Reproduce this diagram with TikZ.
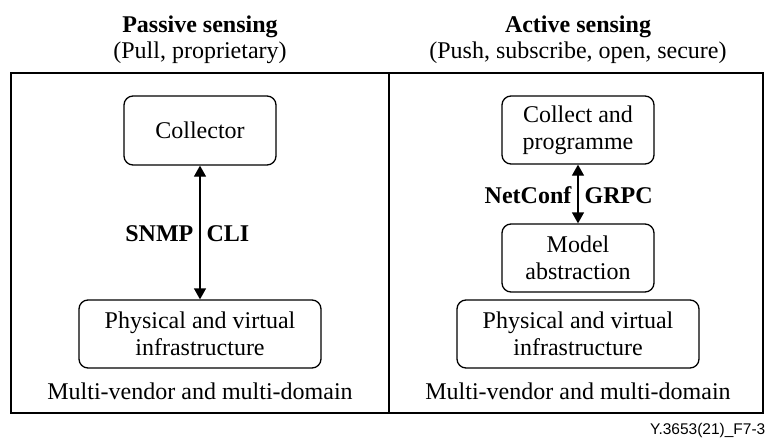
\documentclass[tikz,border=0pt]{standalone}
\usepackage{fontspec}
\setmainfont{Liberation Serif}
\newfontfamily\footfont{Liberation Sans}
\usetikzlibrary{arrows.meta}
\begin{document}
\begin{tikzpicture}[x=1pt,y=-1pt,
  line width=1.3pt,
  txt/.style={font=\fontsize{24}{27}\selectfont, inner sep=0pt},
  btxt/.style={font=\fontsize{24}{27}\selectfont\bfseries, inner sep=0pt},
  box/.style={draw, rounded corners=9pt, align=center, inner sep=0pt,
    font=\fontsize{24}{27}\selectfont},
  link/.style={{Triangle[length=11pt,width=12pt]}-{Triangle[length=11pt,width=12pt]}}]
  \useasboundingbox (0,0) rectangle (769,439);

  % outer frame and divider
  \draw (11,73) rectangle (763,413);
  \coordinate (divtop) at (389,73);
  \coordinate (divbot) at (389,413);
  \draw (divtop) -- (divbot);

  % headings
  \node[btxt, anchor=base] (ptitle) at (200,32) {Passive sensing};
  \node[txt, anchor=base] (psub) at (200,58) {(Pull, proprietary)};
  \node[btxt, anchor=base] (atitle) at (578,32) {Active sensing};
  \node[txt, anchor=base] (asub) at (578,58) {(Push, subscribe, open, secure)};

  % passive side
  \node[box, minimum width=152pt, minimum height=69pt] (coll) at (200,130.5) {Collector};
  \node[box, minimum width=242pt, minimum height=68pt] (pinfra) at (200,334) {Physical and virtual\\infrastructure};
  \draw[link] (coll) -- (pinfra);
  \node[btxt, anchor=base east] (snmp) at (194,241) {SNMP};
  \node[btxt, anchor=base west] (cli) at (206,241) {CLI};
  \node[txt, anchor=base] (pmulti) at (200,399) {Multi-vendor and multi-domain};

  % active side
  \node[box, minimum width=152pt, minimum height=68pt] (cprog) at (578,130) {Collect and\\programme};
  \node[box, minimum width=152pt, minimum height=68pt] (model) at (578,258) {Model\\abstraction};
  \node[box, minimum width=242pt, minimum height=68pt] (ainfra) at (578,334) {Physical and virtual\\infrastructure};
  \draw[link] (cprog) -- (model);
  \node[btxt, anchor=base east] (netconf) at (572,203) {NetConf};
  \node[btxt, anchor=base west] (grpc) at (584,203) {GRPC};
  \node[txt, anchor=base] (amulti) at (578,399) {Multi-vendor and multi-domain};

  % figure tag
  \node[inner sep=0pt, anchor=base east, font=\footfont\fontsize{15.5}{18}\selectfont] (tag) at (766,434) {Y.3653(21)\_F7-3};
\end{tikzpicture}
\end{document}
